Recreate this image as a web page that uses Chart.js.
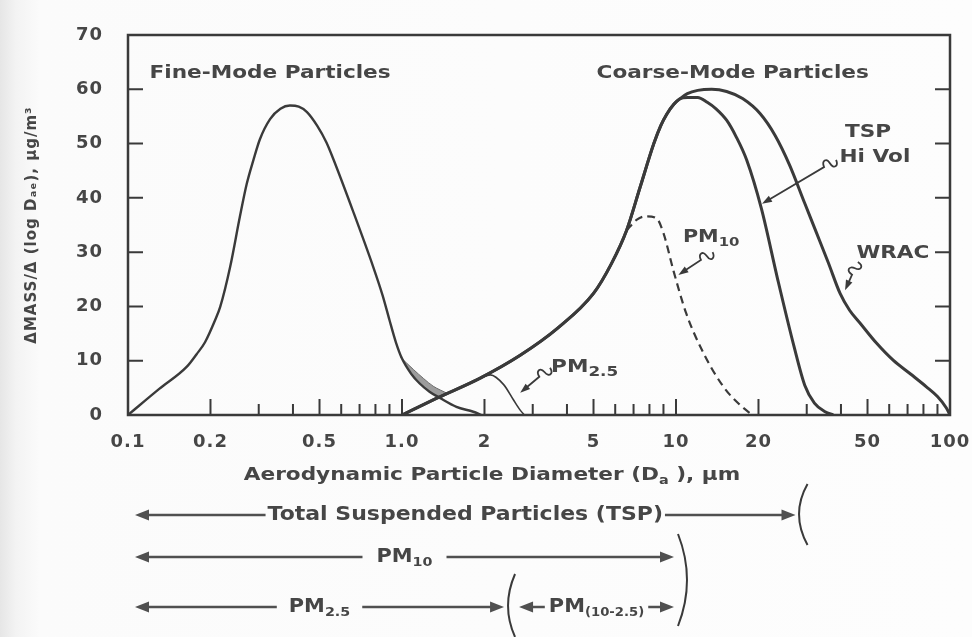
<!DOCTYPE html>
<html>
<head>
<meta charset="utf-8">
<script src="https://cdn.jsdelivr.net/npm/chart.js@4.4.1/dist/chart.umd.min.js"></script>
<style>
  html, body { margin: 0; padding: 0; background: #fcfcfc; }
  #wrap {
    width: 972px; height: 637px; position: relative;
    background: linear-gradient(to right, #e6e6e6 0, #f3f3f3 16px, #fbfbfb 40px, #fdfdfd 100%);
  }
</style>
</head>
<body>
<div id="wrap"><canvas id="chart"></canvas></div>
<script>
// Particle diameter (µm) vs ΔMASS/Δ(log D), µg/m³
const fineSize = [0.1, 0.13, 0.164, 0.178, 0.191, 0.208, 0.217, 0.236, 0.256, 0.271, 0.287, 0.303, 0.33, 0.36, 0.39, 0.42, 0.45, 0.49, 0.53, 0.56, 0.66, 0.785, 0.85, 0.9, 0.95, 1.0, 1.08, 1.16, 1.26, 1.38, 1.58, 1.82, 1.95];
const fineMass = [0, 4.8, 8.9, 11.2, 13.4, 17.5, 19.9, 27.3, 36.5, 42.5, 47, 50.8, 54.5, 56.4, 57, 56.8, 55.8, 53.3, 50.2, 47.3, 37.8, 27.3, 22, 17.5, 13.4, 10.4, 7.6, 5.8, 4.3, 3.1, 1.5, 0.6, 0];

// rising side shared by the coarse-mode curves
const coarseRiseSize = [1.0, 1.34, 1.93, 2.7, 3.7, 5.0, 5.8, 6.6, 7.4, 8.3, 8.8, 9.25, 9.8, 10.3];
const coarseRiseMass = [0, 3.1, 6.8, 11, 16, 22.4, 27.8, 34, 42, 50, 53.3, 55.4, 57.2, 58.2];

const hiVolTailSize = [11, 12, 13, 14, 15.3, 16.6, 18.1, 20.5, 23.5, 27, 29.5, 32, 35, 37.5];
const hiVolTailMass = [58.5, 58.5, 57.6, 56.4, 54.3, 51.2, 47, 38, 25, 12.5, 5.5, 2.2, 0.6, 0];

const wracTailSize = [11, 12, 13.5, 15.3, 17.5, 20.3, 23, 26, 29.5, 32.6, 36, 39.7, 43, 47, 54, 62, 72, 82, 90, 97, 100];
const wracTailMass = [59.2, 59.8, 60, 59.6, 58.3, 55.5, 51.5, 46, 39, 33.5, 28, 22.4, 19.3, 16.9, 13.2, 10.1, 7.5, 5.2, 3.4, 1.3, 0];

const pm10Size = [6.6, 7.2, 7.8, 8.5, 9.0, 9.8, 10.9, 12.6, 14.9, 17, 19];
const pm10Mass = [34, 36, 36.6, 36.2, 33.5, 26.5, 18.7, 11.4, 5.2, 2, 0];

const pm25Size = [1.93, 2.1, 2.35, 2.55, 2.7, 2.8];
const pm25Mass = [6.8, 7.4, 5.6, 2.8, 0.9, 0];

// shaded overlap between fine tail and coarse rise
const shadeSize = [0.985, 1.1, 1.2, 1.3, 1.38, 1.46];
const shadeLow  = [10.7, 7.4, 5.2, 3.9, 3.3, 4.0];
const shadeHigh = [10.7, 8.4, 6.7, 5.3, 4.6, 4.0];

// axes
const xTickValues = [0.1, 0.2, 0.3, 0.4, 0.5, 0.6, 0.7, 0.8, 0.9, 1, 2, 3, 4, 5, 6, 7, 8, 9, 10, 20, 30, 40, 50, 60, 70, 80, 90, 100];
const xLabelValues = [0.1, 0.2, 0.5, 1, 2, 5, 10, 20, 50, 100];
const xLabelText = ['0.1', '0.2', '0.5', '1.0', '2', '5', '10', '20', '50', '100'];
const yInnerTicks = [10, 20, 30, 40, 50, 60];

// size-range bars under the axis: label, subscript, from µm, to µm
const rangeLabels = ['Total Suspended Particles (TSP)', 'PM', 'PM', 'PM'];
const rangeSubs = ['', '10', '2.5', '(10-2.5)'];
const rangeFrom = [0.1, 0.1, 0.1, 2.5];
const rangeTo = [28, 10, 2.5, 10];

const INK = '#3a3a3a';
const TEXT = '#464646';
const FONT = '"DejaVu Sans", "Liberation Sans", sans-serif';

const pts = (xs, ys) => xs.map((x, i) => ({ x, y: ys[i] }));

function richText(ctx, parts, x, y, align, stretch) {
  // parts: [text, size, dy]
  ctx.save();
  ctx.letterSpacing = '0px';
  ctx.fillStyle = TEXT;
  ctx.textBaseline = 'middle';
  ctx.textAlign = 'left';
  let w = 0;
  parts.forEach(p => { ctx.font = 'bold ' + p[1] + 'px ' + FONT; w += ctx.measureText(p[0]).width; });
  const sw = w * stretch;
  const start = align === 'center' ? x - sw / 2 : align === 'right' ? x - sw : x;
  ctx.translate(start, y);
  ctx.scale(stretch, 1);
  let cx = 0;
  parts.forEach(p => {
    ctx.font = 'bold ' + p[1] + 'px ' + FONT;
    ctx.fillText(p[0], cx, p[2] || 0);
    cx += ctx.measureText(p[0]).width;
  });
  ctx.restore();
  return sw;
}

function arrowHead(ctx, tx, ty, dir, len, half) {
  ctx.beginPath();
  ctx.moveTo(tx, ty);
  ctx.lineTo(tx - dir * len, ty - half);
  ctx.lineTo(tx - dir * len, ty + half);
  ctx.closePath();
  ctx.fill();
}

// little "S" squiggle followed by a straight pointer
function pointer(ctx, sx, sy, tx, ty) {
  const dx = tx - sx, dy = ty - sy, L = Math.hypot(dx, dy);
  const ux = dx / L, uy = dy / L, nx = -uy, ny = ux;
  const p = (t, o) => [sx + ux * t + nx * o, sy + uy * t + ny * o];
  ctx.beginPath();
  ctx.moveTo(...p(0, 0));
  ctx.bezierCurveTo(...p(1, -7), ...p(7, -7), ...p(7, 0));
  ctx.bezierCurveTo(...p(7, 7), ...p(13, 7), ...p(14, 0));
  ctx.lineTo(...p(L - 7, 0));
  ctx.stroke();
  ctx.beginPath();
  ctx.moveTo(tx, ty);
  ctx.lineTo(...p(L - 10, 3.5));
  ctx.lineTo(...p(L - 10, -3.5));
  ctx.closePath();
  ctx.fill();
}

const annotate = {
  id: 'annotate',
  beforeDraw(chart) {
    chart.ctx.letterSpacing = '1px';
  },
  afterDatasetsDraw(chart) {
    const { ctx, chartArea: a, scales: { x, y } } = chart;
    ctx.save();
    ctx.strokeStyle = INK;
    ctx.lineCap = 'butt';

    // inner tick marks
    ctx.lineWidth = 2;
    ctx.beginPath();
    xTickValues.forEach(v => {
      if (v <= 0.1 || v >= 100) return;
      const px = x.getPixelForValue(v);
      const len = xLabelValues.includes(v) ? 16 : 11;
      ctx.moveTo(px, a.bottom);
      ctx.lineTo(px, a.bottom - len);
    });
    yInnerTicks.forEach(v => {
      const py = y.getPixelForValue(v);
      ctx.moveTo(a.left, py); ctx.lineTo(a.left + 15, py);
      ctx.moveTo(a.right, py); ctx.lineTo(a.right - 15, py);
    });
    ctx.stroke();

    // frame
    ctx.lineWidth = 2.5;
    ctx.strokeRect(a.left, a.top, a.right - a.left, a.bottom - a.top);

    // mode titles and curve labels
    richText(ctx, [['Fine-Mode Particles', 18]], x.getPixelForValue(0.33), y.getPixelForValue(63), 'center', 1.2);
    richText(ctx, [['Coarse-Mode Particles', 18]], x.getPixelForValue(16.1), y.getPixelForValue(63), 'center', 1.2);
    richText(ctx, [['TSP', 18]], x.getPixelForValue(50.2), y.getPixelForValue(52), 'center', 1.2);
    richText(ctx, [['Hi Vol', 18]], x.getPixelForValue(53.2), y.getPixelForValue(47.5), 'center', 1.2);
    richText(ctx, [['WRAC', 18]], x.getPixelForValue(61.9), y.getPixelForValue(29.8), 'center', 1.2);
    richText(ctx, [['PM', 18], ['10', 13, 6]], x.getPixelForValue(10.6), y.getPixelForValue(32.8), 'left', 1.15);
    richText(ctx, [['PM', 18], ['2.5', 14, 5]], x.getPixelForValue(3.5), y.getPixelForValue(8.8), 'left', 1.2);

    // squiggle pointers
    ctx.fillStyle = INK;
    ctx.lineWidth = 1.8;
    const ptr = (s0, m0, s1, m1) => pointer(ctx, x.getPixelForValue(s0), y.getPixelForValue(m0), x.getPixelForValue(s1), y.getPixelForValue(m1));
    ptr(38.4, 47, 20.6, 38.9);
    ptr(46.1, 28.2, 41.4, 23);
    ptr(13.6, 30, 10.2, 25.8);
    ptr(3.47, 8.7, 2.7, 4.1);
    ctx.restore();
  },
  afterDraw(chart) {
    const { ctx, scales: { x } } = chart;
    ctx.save();
    ctx.strokeStyle = '#505050';
    ctx.fillStyle = '#505050';
    ctx.lineWidth = 2.5;

    // axis title
    richText(ctx, [['Aerodynamic Particle Diameter (D', 18], ['a', 12, 6], [' ), µm', 18]], 492, 475, 'center', 1.2);

    const rowY = [515, 557, 607, 607];
    const gaps = [2, 14, 12, 4];
    const tipL = [7, 7, 7, 8];
    const tipR = [-3, -2, -7, -2];
    rangeLabels.forEach((lab, i) => {
      const x0 = x.getPixelForValue(rangeFrom[i]) + tipL[i];
      const x1 = x.getPixelForValue(rangeTo[i]) + tipR[i];
      const cx = (x0 + x1) / 2, yy = rowY[i];
      const parts = i === 0 ? [[lab, 20]] : [[lab, 19], [rangeSubs[i], i === 3 ? 12 : 13, 6]];
      const w = richText(ctx, parts, cx, yy, 'center', 1.1);
      ctx.beginPath();
      ctx.moveTo(x0 + 10, yy); ctx.lineTo(cx - w / 2 - gaps[i], yy);
      ctx.moveTo(cx + w / 2 + gaps[i], yy); ctx.lineTo(x1 - 10, yy);
      ctx.stroke();
      arrowHead(ctx, x0, yy, -1, 14, 5.5);
      arrowHead(ctx, x1, yy, 1, 14, 5.5);
    });

    // cut-point braces
    ctx.lineWidth = 2;
    ctx.strokeStyle = INK;
    const tsp = x.getPixelForValue(28) + 4;
    ctx.beginPath(); ctx.moveTo(tsp + 5, 484); ctx.quadraticCurveTo(tsp - 12, 514, tsp + 5, 545); ctx.stroke();
    const p10 = x.getPixelForValue(10) + 6;
    ctx.beginPath(); ctx.moveTo(p10 - 4, 534); ctx.quadraticCurveTo(p10 + 14, 580, p10 - 4, 626); ctx.stroke();
    const p25 = x.getPixelForValue(2.5) + 2;
    ctx.beginPath(); ctx.moveTo(p25 + 2, 574); ctx.quadraticCurveTo(p25 - 12, 606, p25 + 2, 637); ctx.stroke();
    ctx.restore();
  }
};

const line = (data, width, extra) => Object.assign({
  data, borderColor: INK, borderWidth: width, pointRadius: 0,
  cubicInterpolationMode: 'monotone', fill: false
}, extra || {});

new Chart(document.getElementById('chart'), {
  type: 'line',
  data: {
    datasets: [
      line(pts(fineSize, fineMass), 2.4, { label: 'Fine mode' }),
      line(pts(coarseRiseSize.concat(hiVolTailSize), coarseRiseMass.concat(hiVolTailMass)), 3, { label: 'TSP Hi Vol' }),
      line(pts(coarseRiseSize.concat(wracTailSize), coarseRiseMass.concat(wracTailMass)), 3, { label: 'WRAC' }),
      line(pts(pm10Size, pm10Mass), 2.2, { label: 'PM10', borderDash: [8, 5] }),
      line(pts(pm25Size, pm25Mass), 1.6, { label: 'PM2.5' }),
      line(pts(shadeSize, shadeLow), 0, { label: 'shade base' }),
      line(pts(shadeSize, shadeHigh), 1, { label: 'shade', fill: '-1', backgroundColor: '#9c9c9c', borderColor: '#6a6a6a' })
    ]
  },
  options: {
    responsive: true,
    maintainAspectRatio: false,
    animation: false,
    events: [],
    layout: { padding: { top: 35, right: 22, left: 0, bottom: 0 } },
    plugins: { legend: { display: false }, tooltip: { enabled: false } },
    scales: {
      x: {
        type: 'logarithmic',
        min: 0.1,
        max: 100,
        grid: { display: false },
        border: { display: false },
        afterBuildTicks: s => { s.ticks = xTickValues.map(value => ({ value })); },
        afterFit: s => { s.height = 222; s.paddingLeft = 0; s.paddingRight = 0; },
        ticks: {
          autoSkip: false,
          maxRotation: 0,
          padding: 9,
          color: TEXT,
          font: { family: FONT, size: 18, weight: 'bold' },
          callback: v => { const k = xLabelValues.indexOf(v); return k < 0 ? '' : xLabelText[k]; }
        }
      },
      y: {
        min: 0,
        max: 70,
        grid: { display: false },
        border: { display: false },
        afterFit: s => { s.width = 128; s.paddingTop = 0; s.paddingBottom = 0; },
        ticks: {
          stepSize: 10,
          padding: 17,
          color: TEXT,
          font: { family: FONT, size: 18, weight: 'bold' }
        },
        title: {
          display: true,
          text: 'ΔMASS/Δ (log Dₐₑ), µg/m³',
          color: TEXT,
          font: { family: FONT, size: 15, weight: 'bold' },
          padding: { top: 23, bottom: 0 }
        }
      }
    }
  },
  plugins: [annotate]
});
</script>
</body>
</html>
